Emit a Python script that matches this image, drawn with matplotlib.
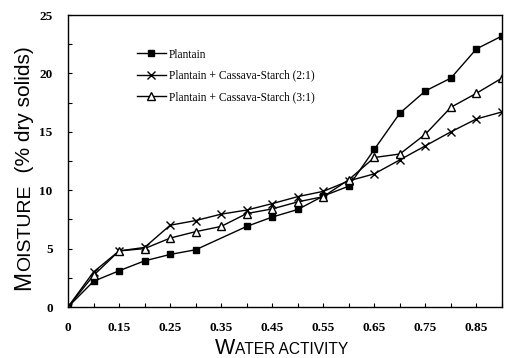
import numpy as np
import matplotlib
matplotlib.use("Agg")
import matplotlib.pyplot as plt
from matplotlib.ticker import MultipleLocator

# water activity categories (equally spaced on the chart)
aw = ["0", "0.1", "0.15", "0.2", "0.25", "0.3", "0.35", "0.4", "0.45", "0.5",
      "0.55", "0.6", "0.65", "0.7", "0.75", "0.8", "0.85", "0.9"]

# Plantain has no point at 0.35
plantain_aw = ["0", "0.1", "0.15", "0.2", "0.25", "0.3", "0.4", "0.45", "0.5",
               "0.55", "0.6", "0.65", "0.7", "0.75", "0.8", "0.85", "0.9"]
plantain = [0, 2.2, 3.1, 3.95, 4.5, 4.9, 6.9, 7.7, 8.35, 9.5, 10.35,
            13.5, 16.6, 18.5, 19.6, 22.1, 23.2]
cassava_21 = [0, 3.0, 4.8, 5.1, 7.0, 7.4, 7.95, 8.3, 8.85, 9.45, 9.9, 10.8,
              11.4, 12.6, 13.8, 15.0, 16.1, 16.7]
cassava_31 = [0, 2.7, 4.8, 5.0, 5.9, 6.45, 6.9, 8.0, 8.4, 9.0, 9.45, 10.9,
              12.8, 13.1, 14.8, 17.1, 18.3, 19.6]

labels = ["Plantain", "Plantain + Cassava-Starch (2:1)", "Plantain + Cassava-Starch (3:1)"]

W, H = 506, 358
SERIF = "Liberation Serif"
SANS = "Liberation Sans"

fig = plt.figure(figsize=(W / 100, H / 100), dpi=100)
ax = fig.add_axes([68 / W, 1 - 307 / H, 434 / W, 292 / H])

idx = {a: i for i, a in enumerate(aw)}
ax.plot([idx[a] for a in plantain_aw], plantain, color="black", lw=1,
        marker="s", ms=5, mfc="black", mec="black", label=labels[0])
ax.plot(range(len(aw)), cassava_21, color="black", lw=1,
        marker="x", ms=6, mew=1, label=labels[1])
ax.plot(range(len(aw)), cassava_31, color="black", lw=1,
        marker="^", ms=6, mfc="white", mec="black", mew=1, label=labels[2])

ax.set_xlim(0, len(aw) - 1)
ax.set_ylim(0, 25)
ax.set_xticks(range(len(aw)))
ax.set_xticklabels([a if i % 2 == 0 and i < 17 else "" for i, a in enumerate(aw)])
ax.yaxis.set_major_locator(MultipleLocator(5))
ax.yaxis.set_minor_locator(MultipleLocator(2.5))
ax.tick_params(which="both", direction="in", length=3, width=0.8, color="black")
ax.tick_params(axis="x", pad=11)
ax.tick_params(axis="y", pad=11)
for lab in ax.get_xticklabels() + ax.get_yticklabels():
    lab.set_fontfamily(SERIF)
    lab.set_fontweight("bold")
    lab.set_fontsize(9.5)
for sp in ax.spines.values():
    sp.set_linewidth(1)
    sp.set_color("black")

leg = ax.legend(loc="upper left", bbox_to_anchor=(0.145, 0.905), frameon=False,
                handlelength=2.5, handletextpad=0.3, labelspacing=0.8,
                borderpad=0, prop={"family": SERIF, "size": 8.3})


def small_caps(parts, x, y, rotation=0):
    # parts: (text, fontsize) placed one after the other, centred on x (or y)
    r = fig.canvas.get_renderer()
    widths = []
    for s, size in parts:
        t = fig.text(0, 0, s, fontsize=size, family=SANS)
        widths.append(t.get_window_extent(r).width)
        t.remove()
    pos = -sum(widths) / 2
    for (s, size), w in zip(parts, widths):
        if rotation == 0:
            fig.text((x + pos) / W, y / H, s, fontsize=size, family=SANS,
                     ha="left", va="baseline")
        else:
            fig.text(x / W, (y + pos) / H, s, fontsize=size, family=SANS,
                     rotation=90, rotation_mode="anchor", ha="left", va="baseline")
        pos += w


small_caps([("W", 15.5), ("ATER ACTIVITY", 11.2)], 282, 4)
small_caps([("M", 16.5), ("OISTURE", 14), ("  (% dry solids)", 15)], 30, 190, rotation=90)

fig.savefig("out.png", dpi=100)
